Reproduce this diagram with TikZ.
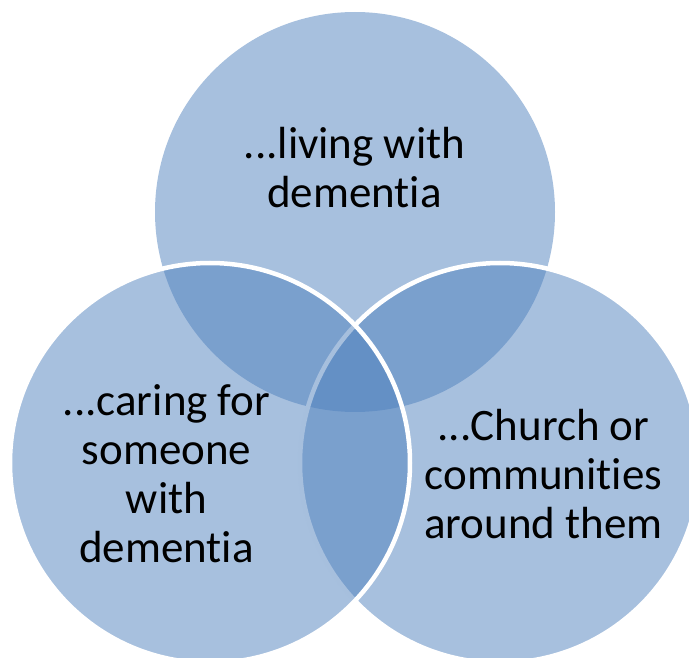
\documentclass[tikz,border=0pt]{standalone}
\usepackage{fontspec}
\setmainfont[Ligatures={NoCommon,NoContextual}]{Carlito}
\definecolor{vennblue}{HTML}{4F81BD}
\tikzset{
  venn/.style={circle, minimum size=400pt, inner sep=0pt, outer sep=0pt,
    fill=vennblue, fill opacity=0.5},
  vennline/.style={venn, draw=white, draw opacity=1, line width=4.5pt},
  lbl/.style={align=center, inner sep=0pt, text=black, text opacity=1,
    font=\fontsize{45pt}{49pt}\selectfont}
}
\begin{document}
\begin{tikzpicture}[x=1pt,y=-1pt]
\useasboundingbox (0,0) rectangle (689,658);
\clip (0,0) rectangle (689,658);
\node[venn] (top) at (355,212) {};
\node[vennline] (right) at (500,463) {};
\node[vennline] (left) at (210,463) {};
\node[lbl] (toptext) at (354.5,167.5) {...living with\\dementia};
\node[lbl] (lefttext) at (166.5,473.5) {...caring for\\someone\\with\\dementia};
\node[lbl] (righttext) at (543.5,474.5) {...Church or\\communities\\around them};
\end{tikzpicture}
\end{document}
